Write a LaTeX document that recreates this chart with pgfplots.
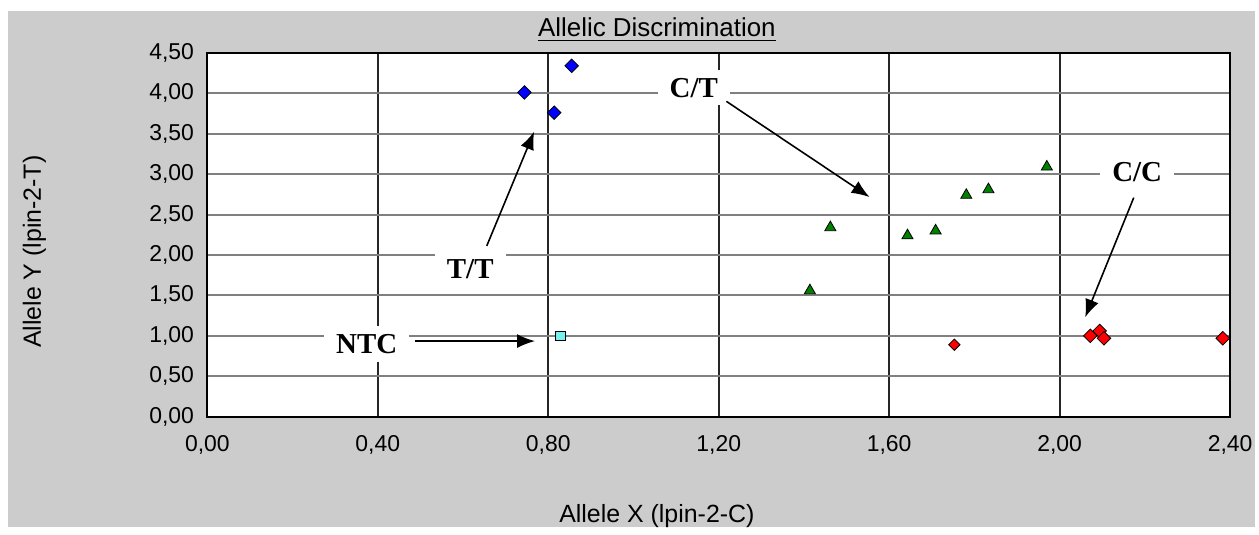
\documentclass[border=0pt]{standalone}
\usepackage{fontspec}
\setmainfont{Liberation Sans}
\newfontfamily\annfont{Liberation Serif}
\usepackage{pgfplots}
\pgfplotsset{compat=1.18}
\usetikzlibrary{arrows.meta}

\definecolor{panelgray}{RGB}{204,204,204}
\definecolor{hgrid}{RGB}{128,128,128}
\definecolor{ttblue}{RGB}{0,0,255}
\definecolor{ctgreen}{RGB}{0,128,0}
\definecolor{ccred}{RGB}{255,0,0}
\definecolor{ntccyan}{RGB}{120,240,240}

\tikzset{
    ann/.style={fill=white, inner xsep=6pt, inner ysep=4pt,
        font=\annfont\bfseries\fontsize{14.5}{16}\selectfont},
    arr/.style={line width=0.8pt, -{Latex[length=9pt, width=7pt]}},
}

% genotype clusters (Allele X, Allele Y)
\pgfplotstableread{
x y
0.744 4.01
0.814 3.76
0.855 4.34
}\tabTT
\pgfplotstableread{
x y
1.414 1.56
1.462 2.34
1.643 2.24
1.709 2.30
1.781 2.74
1.833 2.81
1.970 3.09
}\tabCT
\pgfplotstableread{
x y
2.072 1.00
2.094 1.06
2.104 0.97
2.383 0.97
}\tabCC
\pgfplotstableread{
x y
1.753 0.89
}\tabCCb
\pgfplotstableread{
x y
0.828 1.00
}\tabNTC

\begin{document}
\begin{tikzpicture}
% 1 px of the reference = 0.5pt, plot area lower-left at (0,0)
\fill[white] (-104pt,-55.5pt) rectangle (525.5pt,209pt);
\fill[panelgray] (-100pt,-55.5pt) rectangle (525.5pt,203.5pt);
\begin{axis}[
    scale only axis,
    width=513pt, height=182.5pt,
    xmin=0, xmax=2.4, ymin=0, ymax=4.5,
    xtick={0,0.4,0.8,1.2,1.6,2.0,2.4},
    ytick={0,0.5,1,1.5,2,2.5,3,3.5,4,4.5},
    clip=false,
    axis background/.style={fill=white},
    axis line style={line width=1pt, black},
    xmajorgrids, ymajorgrids,
    x grid style={line width=1pt, black!85},
    y grid style={line width=1pt, hgrid},
    major tick length=0pt,
    tick label style={font=\fontsize{11.5}{13}\selectfont},
    xticklabel style={anchor=base, yshift=-17.5pt},
    yticklabel style={anchor=east, inner sep=0pt, xshift=-6.5pt},
    /pgf/number format/fixed,
    /pgf/number format/fixed zerofill,
    /pgf/number format/precision=2,
    /pgf/number format/use comma,
    /pgf/number format/assume math mode=true,
]
\addplot[only marks, mark=square*, mark size=2.4pt,
    mark options={rotate=45, fill=ttblue, draw=black, line width=0.4pt}] table {\tabTT};
\addplot[only marks, mark=triangle*, mark size=3.2pt,
    mark options={fill=ctgreen, draw=black, line width=0.4pt}] table {\tabCT};
\addplot[only marks, mark=square*, mark size=2.4pt,
    mark options={rotate=45, fill=ccred, draw=black, line width=0.4pt}] table {\tabCC};
\addplot[only marks, mark=square*, mark size=2pt,
    mark options={rotate=45, fill=ccred, draw=black, line width=0.4pt}] table {\tabCCb};
\addplot[only marks, mark=square*, mark size=2.4pt,
    mark options={fill=ntccyan, draw=black, line width=0.4pt}] table {\tabNTC};

\node[ann] at (axis cs:1.1415,4.069) {C/T};
\draw[arr] (axis cs:1.218,3.90) -- (axis cs:1.554,2.716);
\node[ann] at (axis cs:2.182,3.02) {C/C};
\draw[arr] (axis cs:2.174,2.709) -- (axis cs:2.060,1.229);
\node[ann] at (axis cs:0.617,1.831) {T/T};
\draw[arr] (axis cs:0.6557,2.112) -- (axis cs:0.767,3.526);
\node[ann] at (axis cs:0.374,0.900) {NTC};
\draw[arr] (axis cs:0.488,0.935) -- (axis cs:0.769,0.935);
\end{axis}
\node[anchor=base, font=\fontsize{13}{15}\selectfont] at (225.5pt,190.5pt)
    {\underline{Allelic Discrimination}};
\node[anchor=base, font=\fontsize{12.5}{15}\selectfont] at (225.5pt,-53pt)
    {Allele X (lpin-2-C)};
\node[rotate=90, font=\fontsize{12.5}{15}\selectfont] at (-86.75pt,82.75pt)
    {Allele Y (lpin-2-T)};
\end{tikzpicture}
\end{document}
